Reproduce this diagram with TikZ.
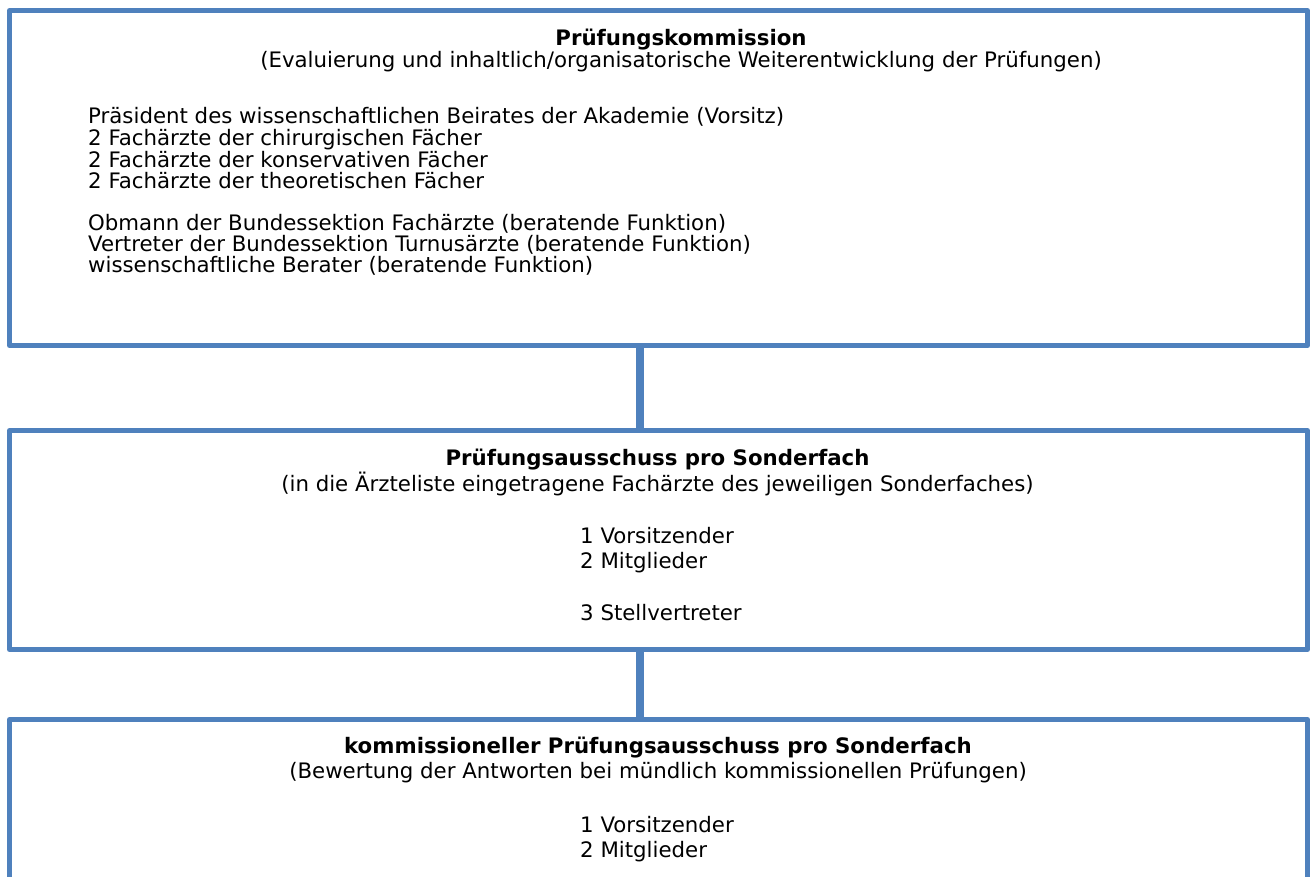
\documentclass[tikz,border=0pt]{standalone}
\usepackage{fontspec}
\setmainfont{DejaVu Sans}
\definecolor{boxblue}{HTML}{4F81BD}
\begin{document}
\begin{tikzpicture}[x=1pt,y=-1pt,
  frame/.style={draw=boxblue,line width=5pt,line join=round,rectangle,inner sep=0pt,fill=white},
  conn/.style={draw=boxblue,line width=8pt},
  txt/.style={inner sep=0pt,font=\fontsize{21.3}{25}\selectfont},
  ttl/.style={inner sep=0pt,font=\fontsize{21.3}{25}\selectfont\bfseries,anchor=base},
  ctr/.style={txt,anchor=base},
  lft/.style={txt,anchor=base west}]
\useasboundingbox (0,0) rectangle (1312,876);
\clip (0,0) rectangle (1312,876);
\coordinate (cx) at (640,0);
% boxes
\node[frame,minimum width=1298pt,minimum height=335pt] (box1) at (658.5,178) {};
\node[frame,minimum width=1298pt,minimum height=219pt] (box2) at (658.5,540) {};
\node[frame,minimum width=1298pt,minimum height=220pt] (box3) at (658.5,829.5) {};
% connectors
\draw[conn] (box1.south -| cx) -- (box2.north -| cx);
\draw[conn] (box2.south -| cx) -- (box3.north -| cx);
% box 1 text
\node[ttl] (t1) at (681,45) {Prüfungskommission};
\node[ctr] (s1) at (681,67) {(Evaluierung und inhaltlich/organisatorische Weiterentwicklung der Prüfungen)};
\node[lft] (a1) at (88,123) {Präsident des wissenschaftlichen Beirates der Akademie (Vorsitz)};
\node[lft] (a2) at (88,145) {2 Fachärzte der chirurgischen Fächer};
\node[lft] (a3) at (88,167) {2 Fachärzte der konservativen Fächer};
\node[lft] (a4) at (88,188) {2 Fachärzte der theoretischen Fächer};
\node[lft] (a5) at (88,230) {Obmann der Bundessektion Fachärzte (beratende Funktion)};
\node[lft] (a6) at (88,251) {Vertreter der Bundessektion Turnusärzte (beratende Funktion)};
\node[lft] (a7) at (88,272) {wissenschaftliche Berater (beratende Funktion)};
% box 2 text
\node[ttl] (t2) at (657.5,465) {Prüfungsausschuss pro Sonderfach};
\node[ctr] (s2) at (657.5,491) {(in die Ärzteliste eingetragene Fachärzte des jeweiligen Sonderfaches)};
\node[lft] (b1) at (580,543) {1 Vorsitzender};
\node[lft] (b2) at (580,568) {2 Mitglieder};
\node[lft] (b3) at (580,620) {3 Stellvertreter};
% box 3 text
\node[ttl] (t3) at (658,753) {kommissioneller Prüfungsausschuss pro Sonderfach};
\node[ctr] (s3) at (658,778) {(Bewertung der Antworten bei mündlich kommissionellen Prüfungen)};
\node[lft] (c1) at (580,832) {1 Vorsitzender};
\node[lft] (c2) at (580,857) {2 Mitglieder};
\end{tikzpicture}
\end{document}
